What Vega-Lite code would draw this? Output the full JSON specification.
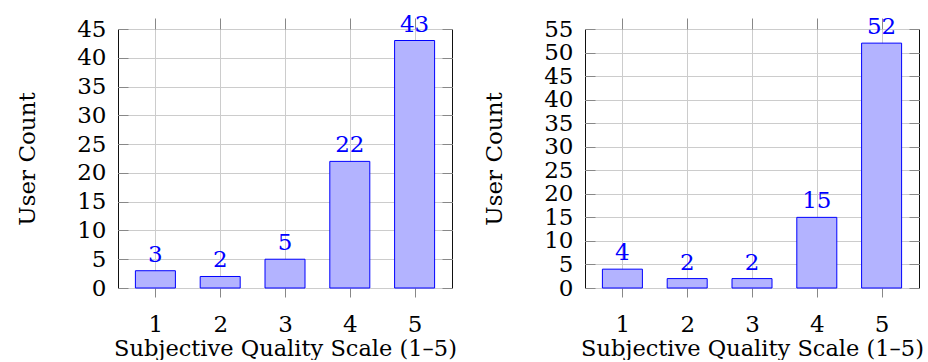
{
  "$schema": "https://vega.github.io/schema/vega-lite/v6.json",
  "background": "white",
  "padding": {"left": 16, "top": 13, "right": 0, "bottom": 0},
  "datasets": {
    "a": [
      {"score": 1, "count": 3},
      {"score": 2, "count": 2},
      {"score": 3, "count": 5},
      {"score": 4, "count": 22},
      {"score": 5, "count": 43}
    ],
    "b": [
      {"score": 1, "count": 4},
      {"score": 2, "count": 2},
      {"score": 3, "count": 2},
      {"score": 4, "count": 15},
      {"score": 5, "count": 52}
    ]
  },
  "config": {
    "font": "DejaVu Serif",
    "view": {"stroke": "#111", "strokeWidth": 1},
    "axis": {
      "labelFont": "DejaVu Serif",
      "titleFont": "DejaVu Serif",
      "labelFontSize": 23,
      "titleFontSize": 23,
      "titleFontWeight": "normal",
      "labelColor": "#000",
      "titleColor": "#000",
      "domain": false,
      "gridColor": "#cccccc",
      "gridWidth": 1,
      "tickColor": "#888888"
    }
  },
  "spacing": 26,
  "hconcat": [
    {
      "width": 334,
      "height": 259,
      "data": {"name": "a"},
      "layer": [
        {
          "mark": {"type": "bar", "size": 40, "fill": "#b3b3ff", "stroke": "#0000ff", "strokeWidth": 1},
          "encoding": {
            "x": {"field": "score", "type": "quantitative", "scale": {"domain": [0.5, 5.5], "nice": false, "zero": false},
                  "axis": {"orient": "bottom", "values": [1, 2, 3, 4, 5], "grid": true, "tickSize": 9, "labelPadding": 16, "title": "Subjective Quality Scale (1–5)", "titlePadding": 1, "titleFontSize": 22.5}},
            "y": {"field": "count", "type": "quantitative", "scale": {"domain": [0, 45], "nice": false},
                  "axis": {"orient": "left", "values": [0, 5, 10, 15, 20, 25, 30, 35, 40, 45], "grid": true, "tickSize": -10, "labelPadding": 22, "title": "User Count", "titlePadding": 37}}
          }
        },
        {
          "mark": {"type": "text", "baseline": "alphabetic", "dy": -9, "fontSize": 23, "color": "#0000ff", "font": "DejaVu Serif"},
          "encoding": {
            "x": {"field": "score", "type": "quantitative",
                  "axis": {"orient": "top", "values": [1, 2, 3, 4, 5], "grid": false, "labels": false, "tickSize": 11, "title": null}},
            "y": {"field": "count", "type": "quantitative",
                  "axis": {"orient": "right", "values": [0, 5, 10, 15, 20, 25, 30, 35, 40, 45], "grid": false, "labels": false, "tickSize": -10, "title": null}},
            "text": {"field": "count", "type": "quantitative"}
          }
        }
      ],
      "resolve": {"axis": {"x": "independent", "y": "independent"}}
    },
    {
      "width": 334,
      "height": 259,
      "data": {"name": "b"},
      "layer": [
        {
          "mark": {"type": "bar", "size": 40, "fill": "#b3b3ff", "stroke": "#0000ff", "strokeWidth": 1},
          "encoding": {
            "x": {"field": "score", "type": "quantitative", "scale": {"domain": [0.5, 5.5], "nice": false, "zero": false},
                  "axis": {"orient": "bottom", "values": [1, 2, 3, 4, 5], "grid": true, "tickSize": 9, "labelPadding": 16, "title": "Subjective Quality Scale (1–5)", "titlePadding": 1, "titleFontSize": 22.5}},
            "y": {"field": "count", "type": "quantitative", "scale": {"domain": [0, 55], "nice": false},
                  "axis": {"orient": "left", "values": [0, 5, 10, 15, 20, 25, 30, 35, 40, 45, 50, 55], "grid": true, "tickSize": -10, "labelPadding": 22, "title": "User Count", "titlePadding": 37}}
          }
        },
        {
          "mark": {"type": "text", "baseline": "alphabetic", "dy": -9, "fontSize": 23, "color": "#0000ff", "font": "DejaVu Serif"},
          "encoding": {
            "x": {"field": "score", "type": "quantitative",
                  "axis": {"orient": "top", "values": [1, 2, 3, 4, 5], "grid": false, "labels": false, "tickSize": 11, "title": null}},
            "y": {"field": "count", "type": "quantitative",
                  "axis": {"orient": "right", "values": [0, 5, 10, 15, 20, 25, 30, 35, 40, 45, 50, 55], "grid": false, "labels": false, "tickSize": -10, "title": null}},
            "text": {"field": "count", "type": "quantitative"}
          }
        }
      ],
      "resolve": {"axis": {"x": "independent", "y": "independent"}}
    }
  ]
}
